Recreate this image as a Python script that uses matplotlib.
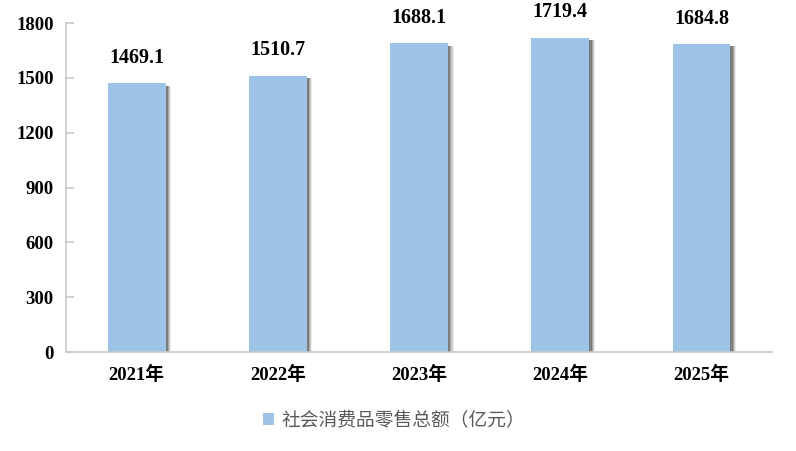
import numpy as np
import matplotlib
matplotlib.use("Agg")
from matplotlib import pyplot as plt

# Data
years = ["2021年", "2022年", "2023年", "2024年", "2025年"]
sales = [1469.1, 1510.7, 1688.1, 1719.4, 1684.8]
yticks = [0, 300, 600, 900, 1200, 1500, 1800]
legend_label = "社会消费品零售总额（亿元）"

bar_color = "#9DC3E6"
serif = ["Liberation Serif", "Noto Sans CJK SC"]

fig = plt.figure(figsize=(7.96, 4.51), dpi=100)
ax = fig.add_axes([0.083, 0.2195, 0.887, 0.7295])

x = np.arange(len(years))
w = 0.41

# soft shadow on the right side of every bar
for k, a in enumerate([0.10, 0.18, 0.28, 0.40]):
    dx = 0.04 - k * 0.008
    ax.bar(x + dx, np.array(sales) - 12, width=w, bottom=0,
           color="#404040", alpha=a, linewidth=0, zorder=1)

bars = ax.bar(x, sales, width=w, color=bar_color, linewidth=0, zorder=2,
              label=legend_label)

for xi, v in zip(x, sales):
    ax.text(xi, v + 85, f"{v:.1f}", ha="center", va="bottom",
            fontsize=14.5, fontweight="bold", family=serif, color="black")

ax.set_xlim(-0.5, len(years) - 0.5)
ax.set_ylim(0, 1800)
ax.set_yticks(yticks)
ax.set_yticklabels([str(t) for t in yticks], fontsize=13.5, fontweight="bold",
                   family=serif)
ax.set_xticks(x)
ax.set_xticklabels(years, fontsize=13.5, fontweight="bold", family=serif)

for s in ["top", "right"]:
    ax.spines[s].set_visible(False)
for s in ["left", "bottom"]:
    ax.spines[s].set_color("#C8C8C8")
    ax.spines[s].set_linewidth(1.2)
ax.tick_params(axis="y", direction="in", length=6, color="#C8C8C8",
               width=1.2, pad=9)
ax.tick_params(axis="x", length=0, pad=10)

leg = fig.legend(handles=[bars], labels=[legend_label], loc="center",
                 bbox_to_anchor=(0.495, 0.068), frameon=False,
                 prop={"family": ["Noto Sans CJK SC"], "size": 13.5},
                 handlelength=0.6, handleheight=0.6, handletextpad=0.35)
for t in leg.get_texts():
    t.set_color("#595959")

fig.savefig("out.png", dpi=100)
